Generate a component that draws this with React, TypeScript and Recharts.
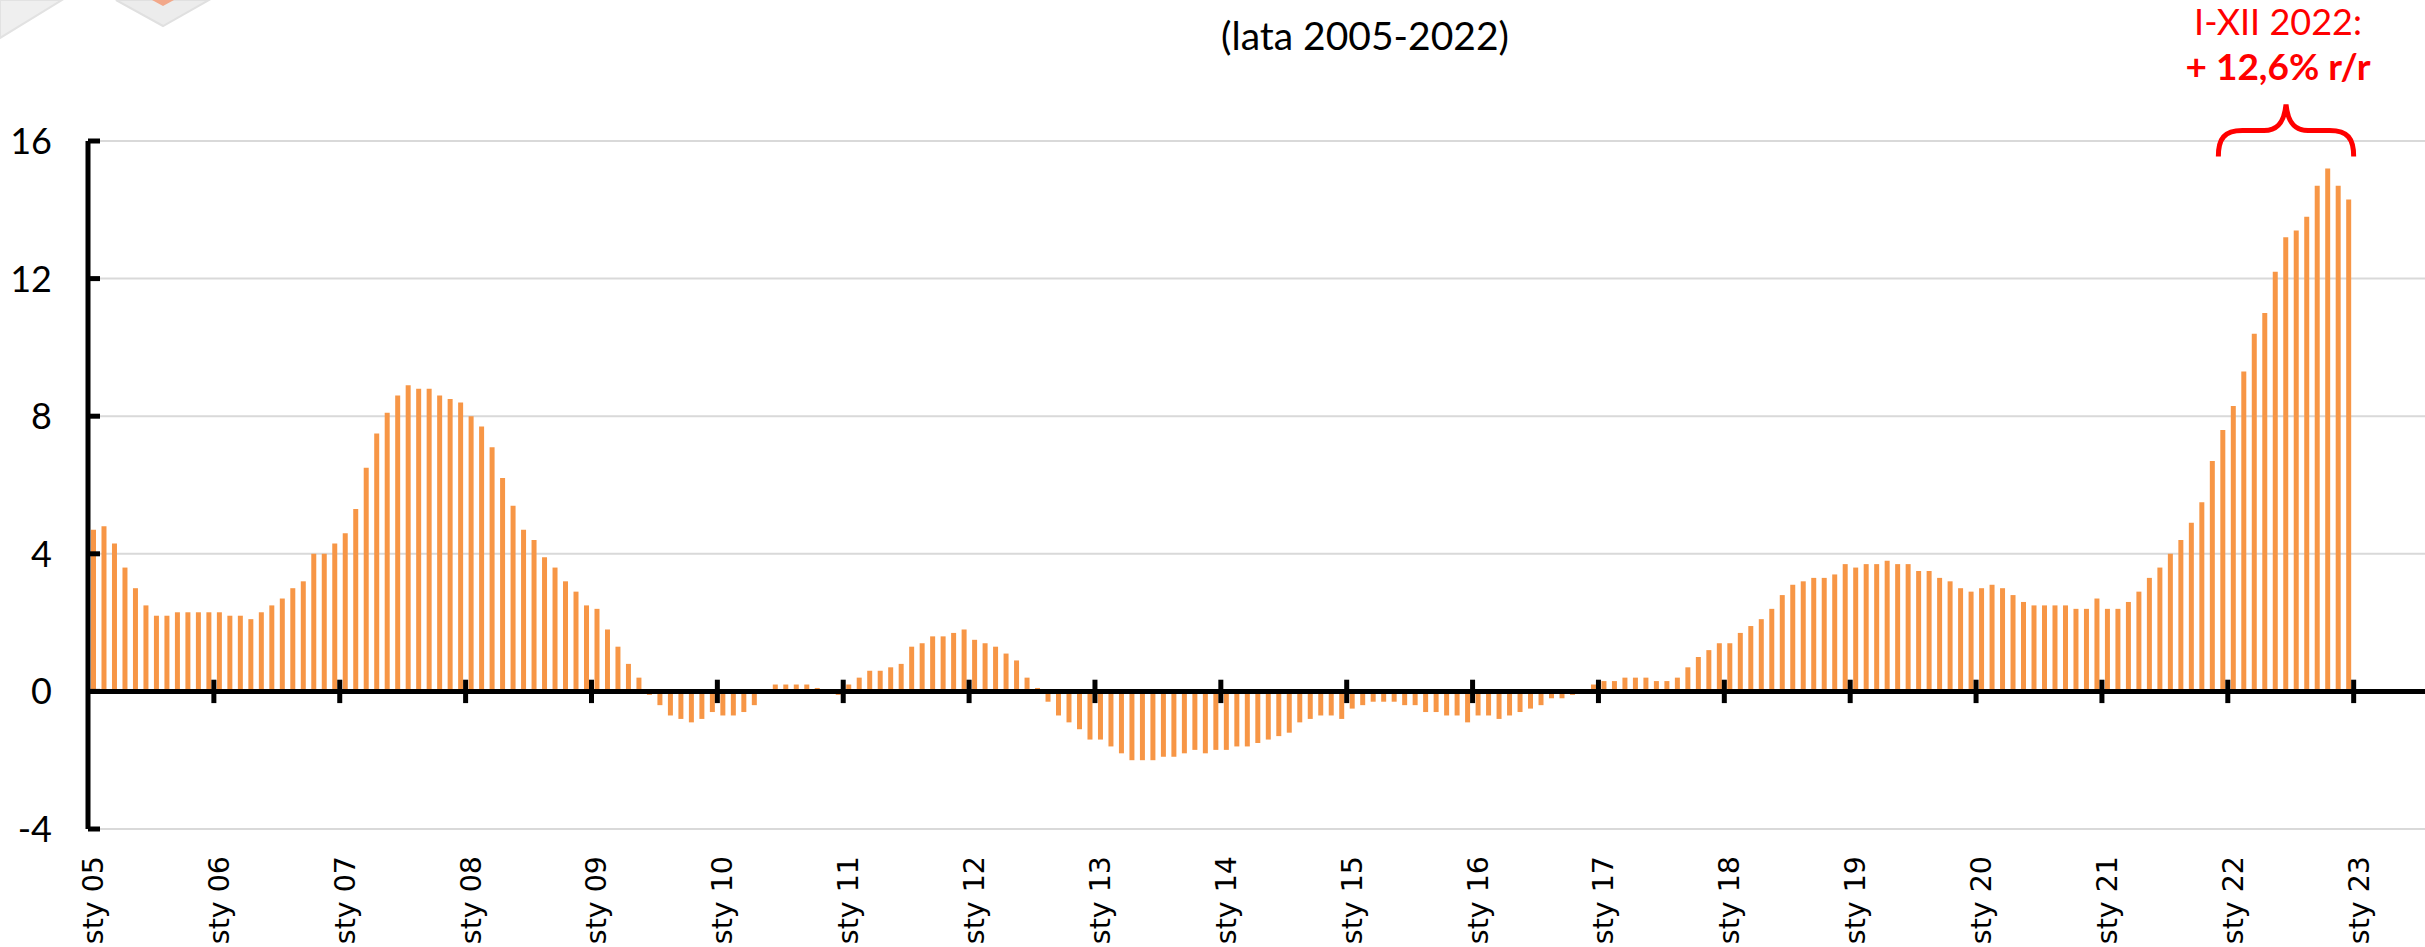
import React from 'react';
import { BarChart, Bar, XAxis, YAxis, CartesianGrid, ReferenceLine } from 'recharts';

// dynamika r/r, dane miesięczne (odczyt z wykresu)
const y2005 = [4.7, 4.8, 4.3, 3.6, 3.0, 2.5, 2.2, 2.2, 2.3, 2.3, 2.3, 2.3];
const y2006 = [2.3, 2.2, 2.2, 2.1, 2.3, 2.5, 2.7, 3.0, 3.2, 4.0, 4.0, 4.3];
const y2007 = [4.6, 5.3, 6.5, 7.5, 8.1, 8.6, 8.9, 8.8, 8.8, 8.6, 8.5, 8.4];
const y2008 = [8.0, 7.7, 7.1, 6.2, 5.4, 4.7, 4.4, 3.9, 3.6, 3.2, 2.9, 2.5];
const y2009 = [2.4, 1.8, 1.3, 0.8, 0.4, -0.1, -0.4, -0.7, -0.8, -0.9, -0.8, -0.6];
const y2010 = [-0.7, -0.7, -0.6, -0.4, 0.0, 0.2, 0.2, 0.2, 0.2, 0.1, 0.0, -0.1];
const y2011 = [0.2, 0.4, 0.6, 0.6, 0.7, 0.8, 1.3, 1.4, 1.6, 1.6, 1.7, 1.8];
const y2012 = [1.5, 1.4, 1.3, 1.1, 0.9, 0.4, 0.1, -0.3, -0.7, -0.9, -1.1, -1.4];
const y2013 = [-1.4, -1.6, -1.8, -2.0, -2.0, -2.0, -1.9, -1.9, -1.8, -1.7, -1.8, -1.7];
const y2014 = [-1.7, -1.6, -1.6, -1.5, -1.4, -1.3, -1.2, -0.9, -0.8, -0.7, -0.7, -0.8];
const y2015 = [-0.5, -0.4, -0.3, -0.3, -0.3, -0.4, -0.4, -0.6, -0.6, -0.7, -0.7, -0.9];
const y2016 = [-0.7, -0.7, -0.8, -0.7, -0.6, -0.5, -0.4, -0.2, -0.2, -0.1, 0.0, 0.2];
const y2017 = [0.3, 0.3, 0.4, 0.4, 0.4, 0.3, 0.3, 0.4, 0.7, 1.0, 1.2, 1.4];
const y2018 = [1.4, 1.7, 1.9, 2.1, 2.4, 2.8, 3.1, 3.2, 3.3, 3.3, 3.4, 3.7];
const y2019 = [3.6, 3.7, 3.7, 3.8, 3.7, 3.7, 3.5, 3.5, 3.3, 3.2, 3.0, 2.9];
const y2020 = [3.0, 3.1, 3.0, 2.8, 2.6, 2.5, 2.5, 2.5, 2.5, 2.4, 2.4, 2.7];
const y2021 = [2.4, 2.4, 2.6, 2.9, 3.3, 3.6, 4.0, 4.4, 4.9, 5.5, 6.7, 7.6];
const y2022 = [8.3, 9.3, 10.4, 11.0, 12.2, 13.2, 13.4, 13.8, 14.7, 15.2, 14.7, 14.3];

const yearLabels = [
  'sty 05', 'sty 06', 'sty 07', 'sty 08', 'sty 09', 'sty 10', 'sty 11', 'sty 12', 'sty 13', 'sty 14',
  'sty 15', 'sty 16', 'sty 17', 'sty 18', 'sty 19', 'sty 20', 'sty 21', 'sty 22', 'sty 23',
];
const yTicks = [-4, 0, 4, 8, 12, 16];
const subtitle = '(lata 2005-2022)';
const noteLines = ['I-XII 2022:', '+ 12,6% r/r'];

const years = [y2005, y2006, y2007, y2008, y2009, y2010, y2011, y2012, y2013, y2014, y2015, y2016, y2017, y2018, y2019, y2020, y2021, y2022];
const data = years.flat().map((v, i) => ({ m: i + 0.5, v }));
const monthTicks = yearLabels.map((_, i) => i * 12);
const X_MAX = 222.8; // oś ciągnie się do prawej krawędzi

const ORANGE = '#F79646';
const SANS = "Lato, 'Open Sans', sans-serif";

const XTick = ({ x, y, payload }: any) => {
  const label = yearLabels[Math.round(payload.value / 12)];
  return (
    <text
      transform={`translate(${x + 15},${y + 27}) rotate(-90)`}
      textAnchor="end"
      style={{ fontFamily: "'DejaVu Sans', sans-serif", fontSize: 28.5 }}
      fill="#000"
    >
      {label}
    </text>
  );
};

const YTick = ({ x, y, payload }: any) => (
  <g>
    <line x1={x} x2={x + 12} y1={y} y2={y} stroke="#000" strokeWidth={5} />
    <text x={x - 36} y={y} dy="0.36em" textAnchor="end" style={{ fontFamily: SANS, fontSize: 36 }} fill="#000">
      {payload.value}
    </text>
  </g>
);

const Brace = ({ x1, x2, y1 }: any) => {
  const mid = (x1 + x2) / 2;
  const y = y1;
  const d = `M ${x1} ${y} C ${x1} ${y - 18} ${x1 + 6} ${y - 26} ${x1 + 24} ${y - 26} L ${mid - 22} ${y - 26} C ${mid - 10} ${y - 26} ${mid - 2} ${y - 32} ${mid} ${y - 52} C ${mid + 2} ${y - 32} ${mid + 10} ${y - 26} ${mid + 22} ${y - 26} L ${x2 - 24} ${y - 26} C ${x2 - 6} ${y - 26} ${x2} ${y - 18} ${x2} ${y}`;
  return (
    <g>
      <path d={d} fill="none" stroke="#FF0000" strokeWidth={5} />
      <text x={mid - 8} y={y - 121} textAnchor="middle" style={{ fontFamily: SANS, fontSize: 36 }} fill="#FF0000">
        {noteLines[0]}
      </text>
      <text x={mid - 8} y={y - 76} textAnchor="middle" style={{ fontFamily: SANS, fontSize: 37, fontWeight: 700 }} fill="#FF0000">
        {noteLines[1]}
      </text>
    </g>
  );
};

const App = () => {
  return (
    <div style={{ position: 'absolute', left: 0, top: 0, width: 2425, height: 947, background: '#fff', overflow: 'hidden' }}>
      <svg width={2425} height={947} style={{ position: 'absolute', left: 0, top: 0 }}>
        {/* fragment logo w rogu */}
        <polygon points="0,0 62,0 0,38" fill="#efefef" stroke="#e2e2e2" strokeWidth={2} />
        <polygon points="116,0 209,0 163,26" fill="#ececec" stroke="#e0e0e0" strokeWidth={2} />
        <polygon points="152,0 174,0 163,6" fill="#f2a88a" />
        <text x={1365} y={50} textAnchor="middle" style={{ fontFamily: SANS, fontSize: 39 }} fill="#000">
          {subtitle}
        </text>
      </svg>
      <div style={{ position: 'absolute', left: 0, top: 0 }}>
        <BarChart width={2425} height={947} data={data} margin={{ top: 141, right: 0, left: 0, bottom: 0 }}>
          <CartesianGrid vertical={false} stroke="#d9d9d9" strokeWidth={2} />
          <XAxis
            type="number"
            dataKey="m"
            domain={[0, X_MAX]}
            ticks={monthTicks}
            interval={0}
            height={118}
            axisLine={false}
            tickLine={false}
            tickSize={0}
            tickMargin={0}
            tick={<XTick />}
          />
          <YAxis
            domain={[-4, 16]}
            ticks={yTicks}
            interval={0}
            width={88}
            axisLine={{ stroke: '#000', strokeWidth: 5 }}
            tickLine={false}
            tickSize={0}
            tickMargin={0}
            tick={<YTick />}
          />
          <Bar dataKey="v" fill={ORANGE} barSize={5} isAnimationActive={false} />
          <ReferenceLine y={0} stroke="#000" strokeWidth={5} />
          {monthTicks.slice(1).map((t) => (
            <ReferenceLine
              key={t}
              segment={[{ x: t, y: -0.34 }, { x: t, y: 0.34 }]}
              stroke="#000"
              strokeWidth={5}
            />
          ))}
          <ReferenceLine
            segment={[{ x: 203.1, y: 15.55 }, { x: 216, y: 15.55 }]}
            ifOverflow="visible"
            shape={Brace}
          />
        </BarChart>
      </div>
    </div>
  );
};

export default App;
